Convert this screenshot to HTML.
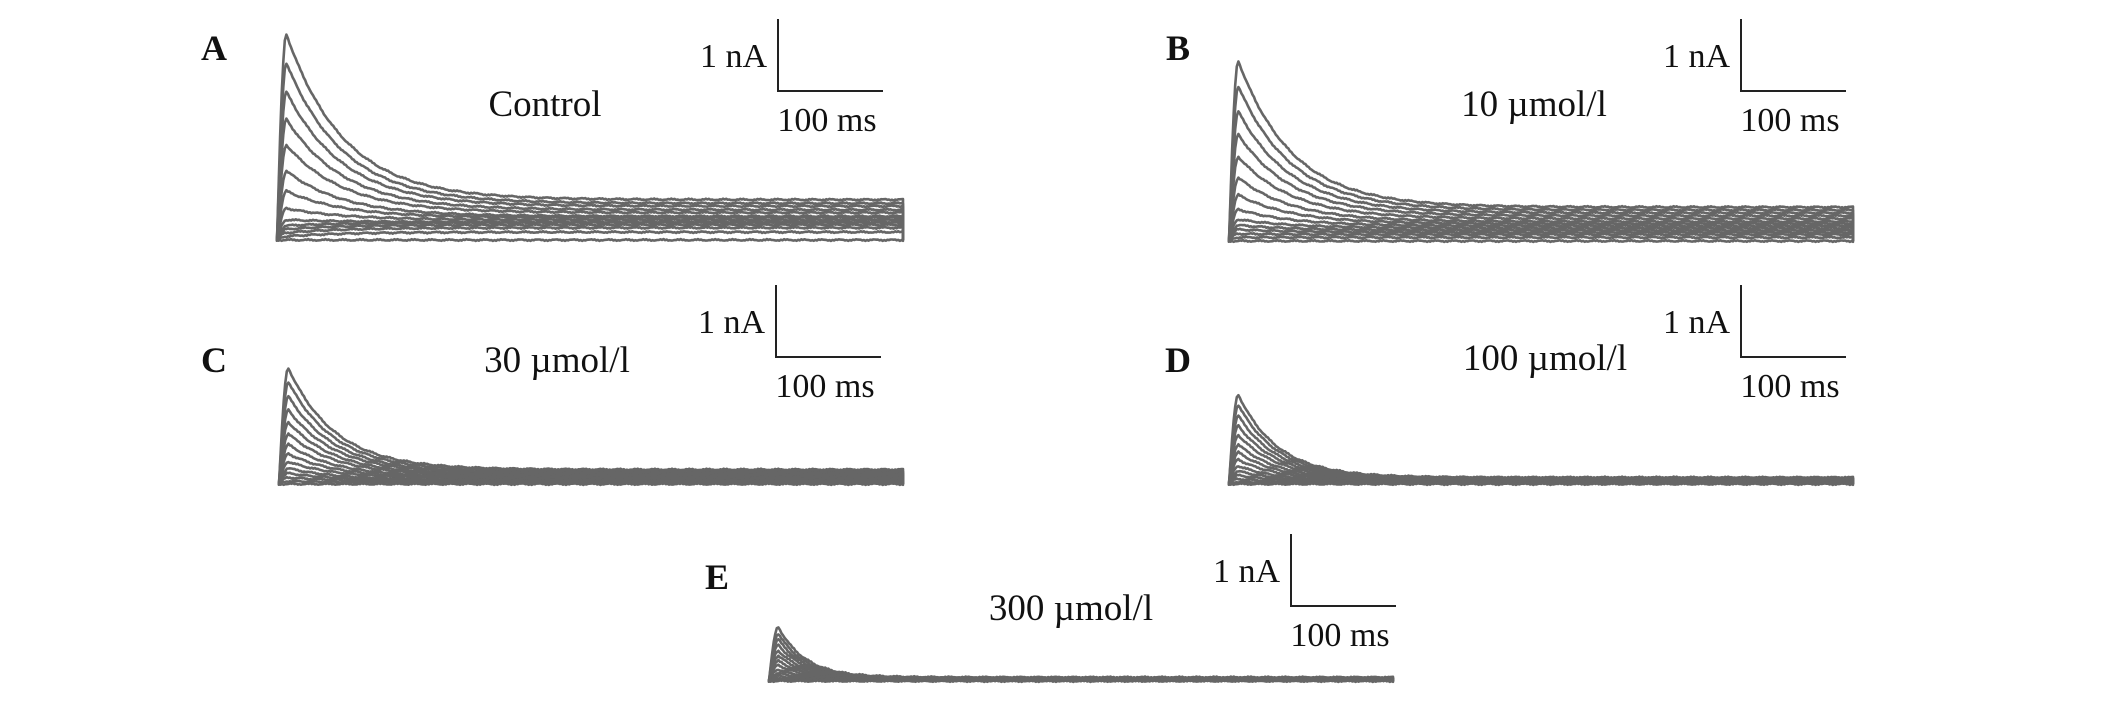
<!DOCTYPE html>
<html><head><meta charset="utf-8"><style>
html,body{margin:0;padding:0;background:#fff;}
svg{display:block;}
text{font-family:"Liberation Serif",serif;fill:#111;}
</style></head><body>
<svg id="fig" width="2126" height="709" viewBox="0 0 2126 709"></svg>
<script>
// Peak current amplitudes (nA) for each depolarising step, per panel
const peaksA = [2.86,2.46,2.06,1.68,1.32,0.96,0.68,0.44,0.28,0.20,0.15,0.10,0.05,0.0];
const peaksB = [2.50,2.15,1.80,1.48,1.17,0.88,0.64,0.44,0.30,0.22,0.16,0.10,0.05,0.0];
const peaksC = [1.61,1.42,1.22,1.03,0.86,0.70,0.55,0.42,0.31,0.22,0.15,0.09,0.04,0.0];
const peaksD = [1.24,1.10,0.95,0.81,0.68,0.55,0.44,0.34,0.25,0.18,0.12,0.07,0.03,0.0];
const peaksE = [0.75,0.66,0.58,0.50,0.42,0.35,0.28,0.22,0.16,0.11,0.07,0.04,0.02,0.0];
// Steady-state (end of pulse) current (nA)
const steadyA = [0.56,0.51,0.47,0.42,0.38,0.33,0.31,0.28,0.25,0.24,0.21,0.17,0.11,0.0];
const steadyB = [0.47,0.43,0.39,0.35,0.31,0.27,0.24,0.21,0.18,0.15,0.12,0.09,0.05,0.0];
const steadyC = [0.20,0.18,0.16,0.15,0.13,0.12,0.10,0.09,0.08,0.06,0.05,0.04,0.02,0.0];
const steadyD = [0.09,0.085,0.08,0.075,0.07,0.06,0.055,0.05,0.04,0.035,0.03,0.02,0.01,0.0];
const steadyE = [0.05,0.045,0.04,0.04,0.035,0.03,0.03,0.025,0.02,0.02,0.015,0.01,0.005,0.0];
// Inactivation time constants (ms)
const tauList = [55,52,45,38,26];
const panelLabels = ["A","B","C","D","E"];
const conditionLabels = ["Control","10 \u00b5mol/l","30 \u00b5mol/l","100 \u00b5mol/l","300 \u00b5mol/l"];

const NS="http://www.w3.org/2000/svg";
const svg=document.getElementById('fig');
function el(tag,attrs,parent){const e=document.createElementNS(NS,tag);for(const k in attrs)e.setAttribute(k,attrs[k]);(parent||svg).appendChild(e);return e;}

const layout=[
 {x0:277,x1:903,base:240,lab:[214,48],bar:[778,19],cond:[545,104]},
 {x0:1229,x1:1853,base:241,lab:[1178,48],bar:[1741,19],cond:[1534,104]},
 {x0:279,x1:903,base:484,lab:[214,360],bar:[776,285],cond:[557,360]},
 {x0:1229,x1:1853,base:484,lab:[1178,360],bar:[1741,285],cond:[1545,358]},
 {x0:769,x1:1393,base:681,lab:[717,577],bar:[1291,534],cond:[1071,608]}
];
const peaks=[peaksA,peaksB,peaksC,peaksD,peaksE];
const steady=[steadyA,steadyB,steadyC,steadyD,steadyE];
const PX_PER_NA=72, DUR=600, TPEAK=9;

layout.forEach((L,p)=>{
  const g=el('g',{});
  
  
  const xs=t=>L.x0+t*(L.x1-L.x0)/DUR;
  const ys=v=>L.base-v*PX_PER_NA;
  const tl=el('text',{x:L.lab[0],y:L.lab[1]+12,'font-size':36,'font-weight':'bold','text-anchor':'middle'},g);
  tl.textContent=panelLabels[p];
  
  
  const tc=el('text',{x:L.cond[0],y:L.cond[1]+12,'font-size':37,'text-anchor':'middle'},g);
  tc.textContent=conditionLabels[p];
  
  
  const bx=L.bar[0],by=L.bar[1];
  const sb=el('path',{d:`M${bx} ${by}V${by+72}H${bx+105}`,fill:'none',stroke:'#222','stroke-width':2},g);
  
  
  const t1=el('text',{x:bx-11,y:by+48,'font-size':34,'text-anchor':'end'},g);
  t1.textContent='1 nA';
  
  
  const t2=el('text',{x:bx+49,y:by+112,'font-size':34,'text-anchor':'middle'},g);
  t2.textContent='100 ms';
  
  
  const tau=tauList[p];
  peaks[p].forEach((pk,i)=>{
    const ss=steady[p][i];
    let d=`M${xs(0).toFixed(1)} ${ys(0).toFixed(1)}`;
    for(let t=0;t<=DUR;t+=1.5){
      let v;
      if(t<TPEAK) v=pk*Math.sin(Math.PI/2*t/TPEAK);
      else v=ss+(pk-ss)*Math.exp(-(t-TPEAK)/tau);
      const w=0.007*Math.sin(t*0.37+i*1.7)+0.006*Math.sin(t*1.9+i*0.6);
      d+=` L${xs(t).toFixed(1)} ${ys(v+w).toFixed(1)}`;
    }
    d+=` L${xs(DUR).toFixed(1)} ${ys(0).toFixed(1)}`;
    const path=el('path',{d:d,fill:'none',stroke:'#666','stroke-width':2.6,'stroke-linejoin':'round'},g);
    
    
  });
});
</script>
</body></html>
